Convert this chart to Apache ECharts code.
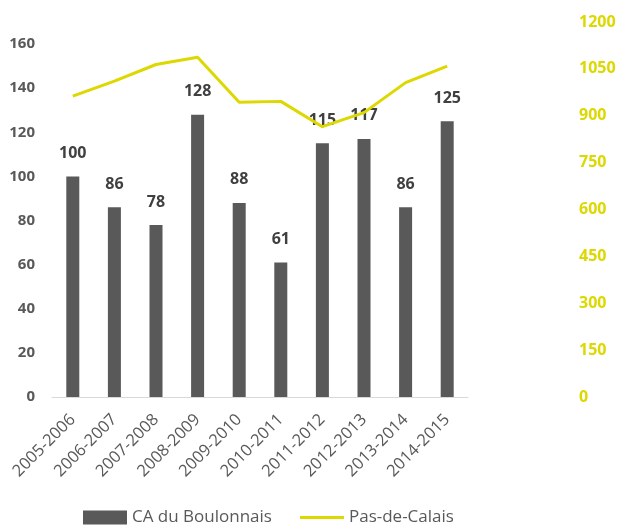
<!DOCTYPE html>
<html>
<head>
<meta charset="utf-8">
<script src="https://cdn.jsdelivr.net/npm/echarts@6/dist/echarts.min.js"></script>
<style>
  html, body { margin: 0; padding: 0; background: #fff; }
  #main { width: 625px; height: 531px; }
</style>
</head>
<body>
<div id="main"></div>
<script>
var categories = ["2005-2006", "2006-2007", "2007-2008", "2008-2009", "2009-2010",
                  "2010-2011", "2011-2012", "2012-2013", "2013-2014", "2014-2015"];
var boulonnais = [100, 86, 78, 128, 88, 61, 115, 117, 86, 125];
var pasDeCalais = [963, 1011, 1064, 1087, 943, 946, 865, 910, 1006, 1059];

var font = "'Open Sans', 'Liberation Sans', sans-serif";
var myChart = echarts.init(document.getElementById("main"));
var option = {
  animation: false,
  textStyle: { fontFamily: font },
  grid: { left: 52, right: 157, top: 22, bottom: 134 },
  legend: {
    bottom: 0,
    left: 78,
    itemGap: 28,
    itemWidth: 44,
    itemHeight: 14,
    textStyle: { color: "#595959", fontSize: 17, fontFamily: font },
    data: [
      { name: "CA du Boulonnais", icon: "rect" },
      // thin bar centred in the icon box, stands in for a line
      { name: "Pas-de-Calais", icon: "path://M0,0 M0,5.5 L44,5.5 L44,8.5 L0,8.5 Z M44,14" }
    ]
  },
  xAxis: {
    type: "category",
    data: categories,
    axisTick: { show: false },
    axisLine: { lineStyle: { color: "#d9d9d9", width: 1 } },
    axisLabel: { rotate: 45, interval: 0, color: "#595959", fontSize: 16.5, margin: 20 }
  },
  yAxis: [
    {
      type: "value",
      min: 0,
      max: 170,
      interval: 20,
      splitLine: { show: false },
      axisLine: { show: false },
      axisTick: { show: false },
      axisLabel: {
        color: "#595959", fontSize: 15, fontWeight: "bold", margin: 17,
        formatter: function (v) { return v % 20 === 0 ? v : ""; }
      }
    },
    {
      type: "value",
      min: 0,
      max: 1200,
      interval: 150,
      position: "right",
      splitLine: { show: false },
      axisLine: { show: false },
      axisTick: { show: false },
      axisLabel: {
        color: "#dcd800", fontSize: 16, fontWeight: "bold", margin: 111,
        formatter: function (v) { return String(v); }
      }
    }
  ],
  series: [
    {
      name: "CA du Boulonnais",
      type: "bar",
      data: boulonnais,
      barWidth: 13,
      itemStyle: { color: "#595959" },
      label: {
        show: true,
        position: "top",
        distance: 15,
        color: "#404040",
        fontSize: 16,
        fontWeight: "bold"
      }
    },
    {
      name: "Pas-de-Calais",
      type: "line",
      yAxisIndex: 1,
      data: pasDeCalais,
      symbol: "none",
      lineStyle: { color: "#dcd800", width: 3 },
      itemStyle: { color: "#dcd800" }
    }
  ]
};
myChart.setOption(option);
</script>
</body>
</html>
